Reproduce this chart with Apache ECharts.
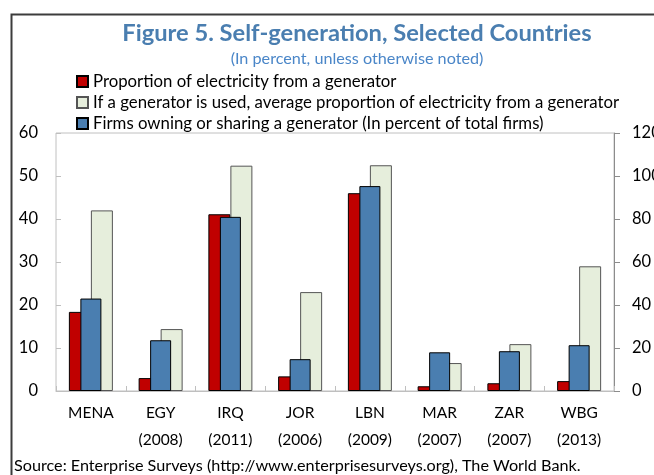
<!DOCTYPE html>
<html>
<head>
<meta charset="utf-8">
<script src="https://cdn.jsdelivr.net/npm/echarts@6/dist/echarts.min.js"></script>
<style>
html,body{margin:0;padding:0;background:#fff;}
#chart{width:654px;height:475px;}
</style>
</head>
<body>
<div id="chart"></div>
<script>
const categories = ['MENA', 'EGY\n(2008)', 'IRQ\n(2011)', 'JOR\n(2006)', 'LBN\n(2009)', 'MAR\n(2007)', 'ZAR\n(2007)', 'WBG\n(2013)'];
const seriesNames = [
  'Proportion of electricity from a generator',
  'If a generator is used, average proportion of electricity from a generator',
  'Firms owning or sharing a generator (In percent of total firms)'
];
const proportionValues = [18.4, 3.0, 41.1, 3.4, 46.0, 1.1, 1.8, 2.3];
const ifUsedValues = [42.0, 14.4, 52.4, 23.0, 52.5, 6.5, 10.9, 29.0];
const firmsOwningValues = [43.0, 23.6, 81.0, 14.8, 95.3, 18.0, 18.5, 21.3];
const leftTicks = { min: 0, max: 60, interval: 10 };
const rightTicks = { min: 0, max: 120, interval: 20 };

const FONT = 'Lato';
const chart = echarts.init(document.getElementById('chart'));
chart.setOption({
  animation: false,
  backgroundColor: '#ffffff',
  textStyle: { fontFamily: FONT },
  title: [
    {
      text: 'Figure 5. Self-generation, Selected Countries',
      left: 357, top: 21, textAlign: 'center', padding: 0,
      textStyle: { fontFamily: FONT, fontWeight: 'bold', fontSize: 23.7, color: '#4a7eb0' }
    },
    {
      text: '(In percent, unless otherwise noted)',
      left: 357, top: 51, textAlign: 'center', padding: 0,
      textStyle: { fontFamily: FONT, fontWeight: 'normal', fontSize: 16.2, color: '#4a86c8' }
    }
  ],
  legend: {
    orient: 'vertical',
    left: 76, top: 73, padding: 0,
    itemWidth: 11, itemHeight: 11,
    itemGap: 4,
    icon: 'rect',
    textStyle: { fontFamily: FONT, fontSize: 16.8, color: '#000', lineHeight: 16 },
    data: seriesNames
  },
  grid: {
    left: 56, right: 40, top: 133, bottom: 84,
    outerBoundsMode: 'none',
    containLabel: false,
    show: true, borderColor: '#c0c0c0', borderWidth: 1
  },
  xAxis: [
    {
      type: 'category', data: categories,
      axisLine: { show: true, lineStyle: { color: '#bfbfbf' } },
      axisTick: { show: true, inside: true, length: 5, lineStyle: { color: '#bfbfbf' } },
      axisLabel: { fontFamily: FONT, fontSize: 15.5, color: '#000', lineHeight: 27, margin: 8, interval: 0 }
    },
    {
      type: 'category', data: categories, show: false,
      position: 'bottom'
    }
  ],
  yAxis: [
    {
      type: 'value', min: leftTicks.min, max: leftTicks.max, interval: leftTicks.interval,
      position: 'left',
      splitLine: { show: false },
      axisLine: { show: false },
      axisTick: { show: true, inside: true, length: 5, lineStyle: { color: '#bfbfbf' } },
      axisLabel: { fontFamily: FONT, fontSize: 16.5, color: '#000', margin: 18 }
    },
    {
      type: 'value', min: rightTicks.min, max: rightTicks.max, interval: rightTicks.interval,
      position: 'right',
      splitLine: { show: false },
      axisLine: { show: true, lineStyle: { color: '#8c8c8c' } },
      axisTick: { show: true, length: 6, lineStyle: { color: '#8c8c8c' } },
      axisLabel: { fontFamily: FONT, fontSize: 16.5, color: '#000', margin: 18 }
    }
  ],
  series: [
    {
      name: seriesNames[0], type: 'bar', xAxisIndex: 0, yAxisIndex: 0,
      data: proportionValues, barWidth: 22, barGap: '0%',
      itemStyle: { color: '#c00000', borderColor: '#000', borderWidth: 1 }
    },
    {
      name: seriesNames[1], type: 'bar', xAxisIndex: 0, yAxisIndex: 0,
      data: ifUsedValues, barWidth: 22, barGap: '0%',
      itemStyle: { color: '#e6eedc', borderColor: '#555', borderWidth: 1 }
    },
    {
      name: seriesNames[2], type: 'bar', xAxisIndex: 1, yAxisIndex: 1,
      data: firmsOwningValues, barWidth: 21,
      itemStyle: { color: '#4a7eb0', borderColor: '#000', borderWidth: 1 }
    }
  ],
  graphic: [
    {
      type: 'rect', left: 9, top: 12, silent: true,
      shape: { width: 720, height: 520 },
      style: { fill: 'none', stroke: '#3c3c3c', lineWidth: 2 }
    },
    {
      type: 'text', left: 14, top: 458,
      style: { text: 'Source: Enterprise Surveys (http://www.enterprisesurveys.org), The World Bank.', fontFamily: FONT, fontSize: 16.2, fill: '#000' }
    }
  ]
});
</script>
</body>
</html>
